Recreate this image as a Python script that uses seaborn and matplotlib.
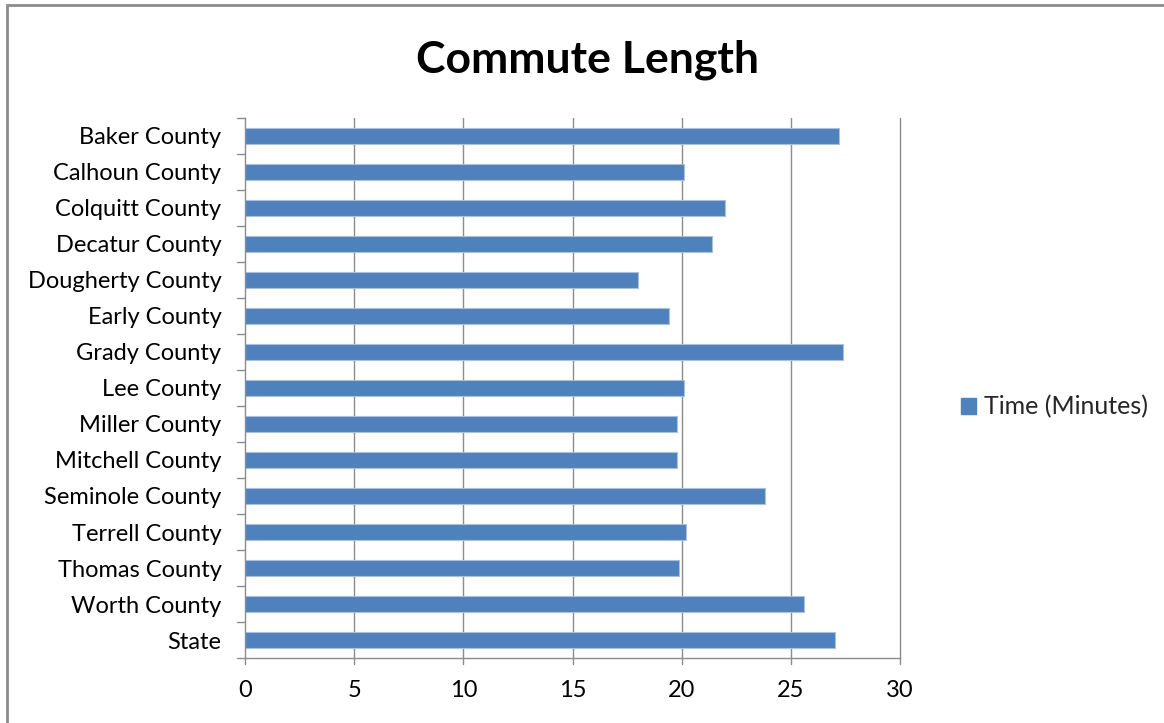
import matplotlib
matplotlib.use("Agg")
import matplotlib.pyplot as plt
import seaborn as sns
import pandas as pd
from matplotlib.patches import Rectangle, Patch
from matplotlib.transforms import blended_transform_factory

counties = ["Baker County", "Calhoun County", "Colquitt County", "Decatur County",
            "Dougherty County", "Early County", "Grady County", "Lee County",
            "Miller County", "Mitchell County", "Seminole County", "Terrell County",
            "Thomas County", "Worth County", "State"]
minutes = [27.2, 20.1, 22.0, 21.4, 18.0, 19.4, 27.4, 20.1,
           19.8, 19.8, 23.8, 20.2, 19.9, 25.6, 27.0]
x_ticks = [0, 5, 10, 15, 20, 25, 30]
series_name = "Time (Minutes)"
title = "Commute Length"

df = pd.DataFrame({"County": counties, "Minutes": minutes})

sns.set_theme(style="white")
plt.rcParams["font.family"] = ["Lato", "DejaVu Sans"]

bar_color = "#4F81BD"
grid_color = "#8c8c8c"

fig = plt.figure(figsize=(11.64, 7.23), dpi=100)
ax = fig.add_axes([0.2105, 0.0899, 0.5627, 0.7469])

sns.barplot(data=df, x="Minutes", y="County", orient="h", color=bar_color,
            width=0.45, saturation=1, edgecolor="#a9c0de", linewidth=0.8, ax=ax)

ax.set_xlim(0, 30)
ax.set_ylim(len(counties) - 0.5, -0.5)
ax.set_xticks(x_ticks)
ax.set_xticklabels([str(t) for t in x_ticks], fontsize=17, color="#000000")
ax.tick_params(axis="y", labelsize=17, labelcolor="#000000", length=0, pad=17)
ax.tick_params(axis="x", length=0, pad=16)
ax.set_xlabel("")
ax.set_ylabel("")

# vertical gridlines
for t in x_ticks[1:]:
    ax.axvline(t, color=grid_color, linewidth=1.0, zorder=0, clip_on=False)
ax.set_axisbelow(True)

for side in ["top", "right"]:
    ax.spines[side].set_visible(False)
for side in ["left", "bottom"]:
    ax.spines[side].set_color(grid_color)
    ax.spines[side].set_linewidth(1.0)

# outward tick marks on category boundaries and value ticks
ty = blended_transform_factory(ax.transAxes, ax.transData)
for b in [i - 0.5 for i in range(len(counties) + 1)]:
    ax.plot([-0.012, 0], [b, b], transform=ty, color=grid_color, lw=1.0,
            clip_on=False)
tx = blended_transform_factory(ax.transData, ax.transAxes)
for t in x_ticks:
    ax.plot([t, t], [-0.012, 0], transform=tx, color=grid_color, lw=1.0,
            clip_on=False)

fig.text(0.505, 0.918, title, ha="center", va="center", fontsize=32,
         fontweight="bold", color="#000000")

handle = Patch(facecolor=bar_color, edgecolor=bar_color)
fig.legend([handle], [series_name], loc="center left",
           bbox_to_anchor=(0.806, 0.437), frameon=False, fontsize=18,
           handlelength=0.6, handleheight=0.6, handletextpad=0.35)

# chart area border
fig.patches.append(Rectangle((0.006, -0.01), 1.2, 1.003, transform=fig.transFigure,
                             fill=False, edgecolor="#8c8c8c", linewidth=2.0))

fig.savefig("out.png", dpi=100)
